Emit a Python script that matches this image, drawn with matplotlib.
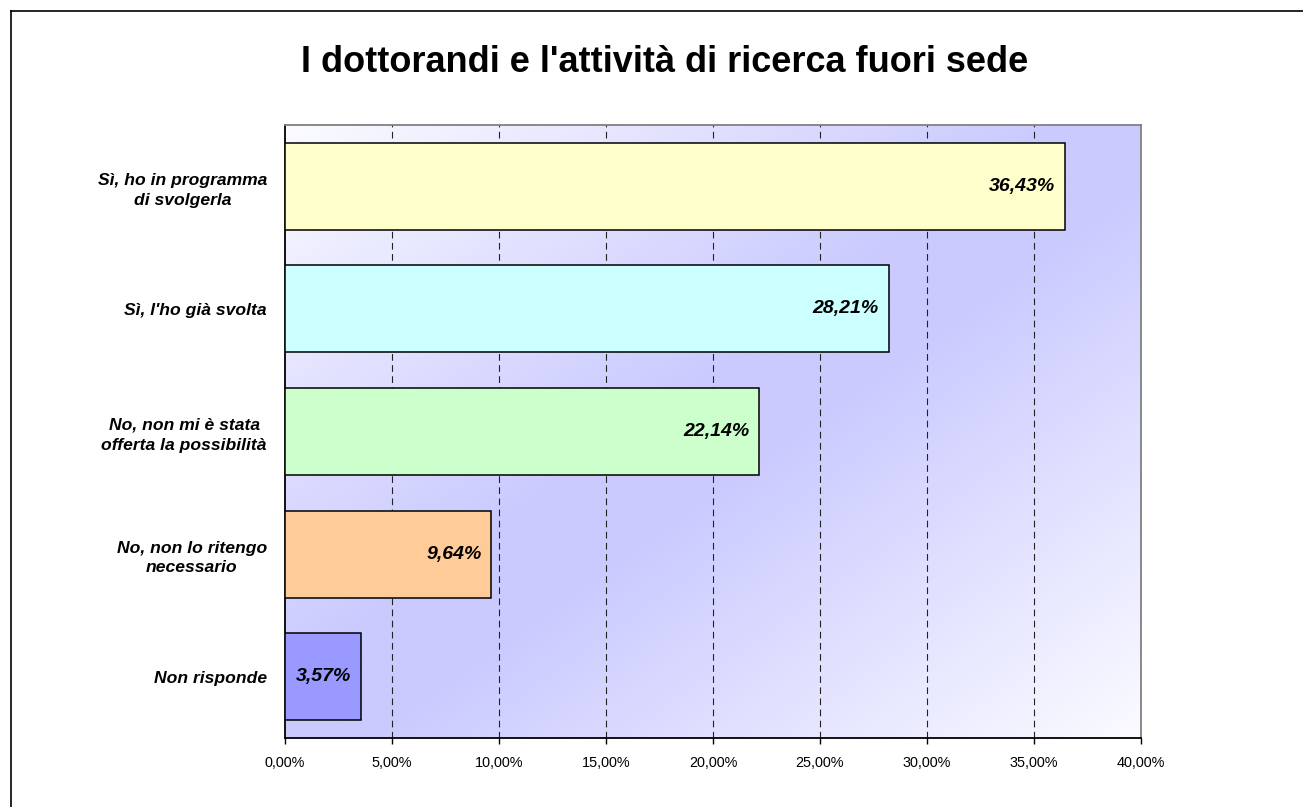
import matplotlib
matplotlib.use('Agg')
import matplotlib.pyplot as plt
import numpy as np
from matplotlib.colors import to_rgb
from matplotlib.lines import Line2D

categorie = ["Sì, ho in programma\ndi svolgerla",
             "Sì, l'ho già svolta",
             "No, non mi è stata\nofferta la possibilità",
             "No, non lo ritengo\nnecessario",
             "Non risponde"]
valori = [36.43, 28.21, 22.14, 9.64, 3.57]
colori = ["#FFFFCC", "#CCFFFF", "#CCFFCC", "#FFCC99", "#9999FF"]
tick_x = [0, 5, 10, 15, 20, 25, 30, 35, 40]

plt.rcParams['font.family'] = ['Liberation Sans', 'DejaVu Sans']

fig = plt.figure(figsize=(13.03, 8.07), dpi=100)
ax = fig.add_axes([285 / 1303, 1 - 738 / 807, (1141 - 285) / 1303, (738 - 125) / 807])

# sfondo sfumato in diagonale (bianco - lavanda - bianco)
nx, ny = 300, 200
xn = np.linspace(0, 1, nx)[None, :]
yn = np.linspace(0, 1, ny)[:, None]
t = (xn + yn) / 2
c = 1 - np.abs(2 * t - 1)
c = np.clip(c * 1.1, 0, 1)
bianco = np.array(to_rgb("#FBFBFF"))
lavanda = np.array(to_rgb("#CACAFF"))
img = bianco * (1 - c[..., None]) + lavanda * c[..., None]
ax.imshow(img, extent=[0, 40, 4.5, -0.5], aspect='auto', zorder=0, interpolation='bilinear')

y = np.arange(len(categorie))
ax.barh(y, valori, height=0.71, color=colori, edgecolor='black', linewidth=1.1, zorder=3)

for yi, v in zip(y, valori):
    ax.annotate(f"{v:.2f}%".replace('.', ','), xy=(v, yi), xytext=(-7, 0),
                textcoords='offset points', ha='right', va='center',
                fontsize=14, fontweight='bold', fontstyle='italic', zorder=4)

ax.set_xlim(0, 40)
ax.set_ylim(4.5, -0.5)
ax.set_xticks(tick_x)
ax.set_xticklabels([f"{v:.2f}%".replace('.', ',') for v in tick_x], fontsize=10.4)
ax.set_yticks(y)
ax.set_yticklabels(categorie, fontsize=12.6, fontweight='bold', fontstyle='italic',
                   multialignment='center', linespacing=1.4)
ax.tick_params(axis='y', length=0, pad=13)
ax.tick_params(axis='x', length=4, width=1, direction='out', pad=9)

for gx in tick_x[1:-1]:
    ax.axvline(gx, color='#222222', linewidth=0.8, dashes=(6, 4), zorder=1)

ax.spines['left'].set_color('black')
ax.spines['bottom'].set_color('black')
ax.spines['left'].set_linewidth(1.3)
ax.spines['bottom'].set_linewidth(1.3)
ax.spines['top'].set_color('#808080')
ax.spines['right'].set_color('#808080')
ax.spines['top'].set_linewidth(1.3)
ax.spines['right'].set_linewidth(1.3)

fig.text(664.5 / 1303, 1 - 63 / 807, "I dottorandi e l'attività di ricerca fuori sede",
         ha='center', va='center', fontsize=26, fontweight='bold')

# bordo esterno (sinistra e alto)
fig.add_artist(Line2D([11 / 1303, 11 / 1303], [0, 1 - 11 / 807], color='black', linewidth=1.2))
fig.add_artist(Line2D([11 / 1303, 1], [1 - 11 / 807, 1 - 11 / 807], color='black', linewidth=1.2))

fig.savefig('out.png', dpi=100)
